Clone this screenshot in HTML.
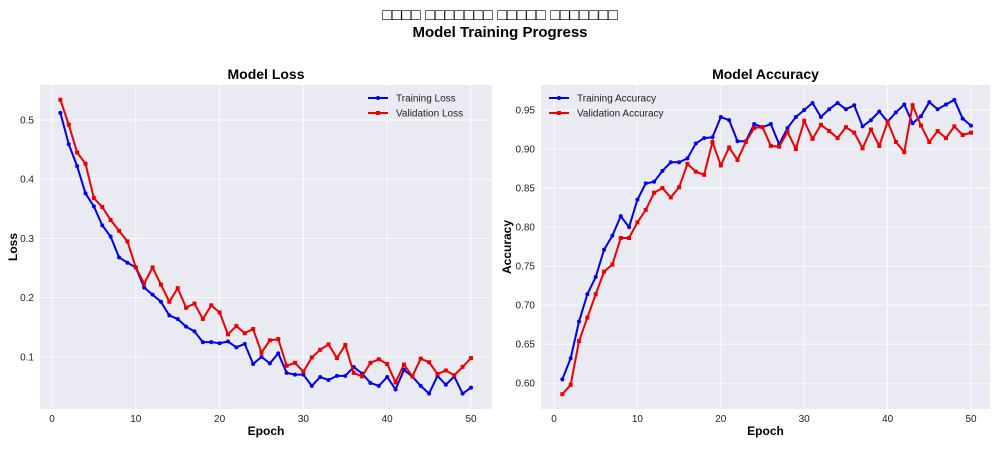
<!DOCTYPE html>
<html><head><meta charset="utf-8"><style>
body{margin:0;background:#fff;width:1000px;height:444px;overflow:hidden;font-family:"Liberation Sans",sans-serif}
</style></head><body>
<svg id="chart" width="1000" height="444" xmlns="http://www.w3.org/2000/svg" font-family="Liberation Sans, sans-serif">
<text x="500" y="20" text-anchor="middle" font-size="16" font-weight="bold">□□□□ □□□□□□□ □□□□□ □□□□□□□</text>
<text x="500" y="37" text-anchor="middle" font-size="15" font-weight="bold">Model Training Progress</text>
<g id="g1"></g><g id="g2"></g>
</svg>
<script>
const epochs = Array.from({length:50},(_,i)=>i+1);
const trainLoss=[0.512,0.459,0.422,0.376,0.354,0.322,0.303,0.268,0.259,0.251,0.217,0.205,0.193,0.170,0.164,0.151,0.143,0.125,0.125,0.123,0.126,0.116,0.122,0.088,0.100,0.089,0.106,0.073,0.070,0.070,0.051,0.066,0.061,0.068,0.068,0.083,0.072,0.056,0.051,0.066,0.045,0.078,0.067,0.051,0.038,0.068,0.053,0.067,0.038,0.048];
const valLoss=[0.534,0.492,0.445,0.426,0.368,0.353,0.331,0.313,0.295,0.251,0.224,0.251,0.222,0.193,0.216,0.183,0.190,0.164,0.187,0.175,0.138,0.152,0.140,0.147,0.107,0.128,0.130,0.085,0.090,0.075,0.099,0.112,0.121,0.098,0.120,0.073,0.067,0.090,0.096,0.088,0.057,0.087,0.067,0.097,0.091,0.071,0.077,0.069,0.083,0.098];
const trainAcc=[0.605,0.632,0.679,0.714,0.736,0.771,0.789,0.814,0.800,0.835,0.856,0.858,0.872,0.883,0.883,0.888,0.907,0.914,0.915,0.941,0.937,0.910,0.910,0.932,0.928,0.932,0.906,0.927,0.941,0.950,0.959,0.941,0.951,0.959,0.951,0.956,0.929,0.937,0.948,0.935,0.947,0.957,0.933,0.942,0.960,0.951,0.957,0.963,0.939,0.930];
const valAcc=[0.586,0.598,0.654,0.684,0.714,0.743,0.752,0.786,0.786,0.806,0.822,0.844,0.850,0.838,0.851,0.881,0.871,0.867,0.909,0.879,0.902,0.886,0.909,0.927,0.928,0.904,0.903,0.922,0.900,0.936,0.913,0.931,0.923,0.914,0.928,0.921,0.901,0.925,0.904,0.935,0.909,0.896,0.956,0.930,0.909,0.923,0.914,0.929,0.918,0.921];
const xTicks=[0,10,20,30,40,50];
const lossTicks=[0.1,0.2,0.3,0.4,0.5];
const accTicks=[0.60,0.65,0.70,0.75,0.80,0.85,0.90,0.95];
const NS="http://www.w3.org/2000/svg";
function mk(p,t,a,txt){const e=document.createElementNS(NS,t);for(const k in a)e.setAttribute(k,a[k]);if(txt!==undefined)e.textContent=txt;p.appendChild(e);return e;}
function panel(g,cfg){
  const L=cfg.L,R=cfg.R,T=85,B=409;
  const xs=v=>cfg.x0+(cfg.x1-cfg.x0)*v/50;
  const ys=v=>T+(cfg.ymax-v)/(cfg.ymax-cfg.ymin)*(B-T);
  const bg=mk(g,'rect',{x:L,y:T,width:R-L,height:B-T,fill:'#eaeaf2'});
  
  
  xTicks.forEach(t=>{mk(g,'line',{x1:xs(t),x2:xs(t),y1:T,y2:B,stroke:'#fff','stroke-width':0.8});
    const tl=mk(g,'text',{x:xs(t),y:B+13,'text-anchor':'middle','font-size':10,fill:'#222'},String(t));
    
    });
  cfg.ticks.forEach(t=>{mk(g,'line',{x1:L,x2:R,y1:ys(t),y2:ys(t),stroke:'#fff','stroke-width':0.8});
    const tl=mk(g,'text',{x:L-6,y:ys(t)+3.5,'text-anchor':'end','font-size':10,fill:'#222'},t.toFixed(cfg.dec));
    
    });
  const ttl=mk(g,'text',{x:(L+R)/2,y:79,'text-anchor':'middle','font-size':14,'font-weight':'bold'},cfg.title);
  
  
  const xl=mk(g,'text',{x:(L+R)/2,y:435,'text-anchor':'middle','font-size':12,'font-weight':'bold'},'Epoch');
  
  
  const yl=mk(g,'text',{x:0,y:0,'text-anchor':'middle','font-size':12,'font-weight':'bold',transform:`translate(${cfg.yl},${(T+B)/2}) rotate(-90)`},cfg.ylabel);
  
  
  cfg.series.forEach(s=>{
    const pts=s.vals.map((v,i)=>[xs(epochs[i]),ys(v)]);
    const pl=mk(g,'polyline',{points:pts.map(p=>p.join(',')).join(' '),fill:'none',stroke:s.color,'stroke-width':2});
    
    
    pts.forEach(p=>{const m=s.sq?mk(g,'rect',{x:p[0]-2,y:p[1]-2,width:4,height:4,fill:s.color}):mk(g,'circle',{cx:p[0],cy:p[1],r:2,fill:s.color});
      
      });
  });
  cfg.series.forEach((s,i)=>{
    const lx=cfg.lx,ly=98+i*15;
    mk(g,'line',{x1:lx,x2:lx+20,y1:ly,y2:ly,stroke:s.color,'stroke-width':2});
    if(s.sq)mk(g,'rect',{x:lx+8,y:ly-2,width:4,height:4,fill:s.color});else mk(g,'circle',{cx:lx+10,cy:ly,r:2,fill:s.color});
    const t=mk(g,'text',{x:lx+28,y:ly+3.5,'font-size':10,fill:'#222'},s.label);
    
    
  });
}
panel(document.getElementById('g1'),{id:'loss',L:40,R:492,x0:52,x1:471,ymin:0.012,ymax:0.559,ticks:lossTicks,dec:1,title:'Model Loss',ylabel:'Loss',yl:17,lx:368,
  series:[{name:'training-loss',label:'Training Loss',vals:trainLoss,color:'#0000ee'},{name:'validation-loss',label:'Validation Loss',vals:valLoss,color:'#ee0000',sq:true}]});
panel(document.getElementById('g2'),{id:'accuracy',L:541,R:990,x0:554,x1:971,ymin:0.567,ymax:0.982,ticks:accTicks,dec:2,title:'Model Accuracy',ylabel:'Accuracy',yl:511,lx:549,
  series:[{name:'training-accuracy',label:'Training Accuracy',vals:trainAcc,color:'#0000ee'},{name:'validation-accuracy',label:'Validation Accuracy',vals:valAcc,color:'#ee0000',sq:true}]});
</script>
</body></html>
